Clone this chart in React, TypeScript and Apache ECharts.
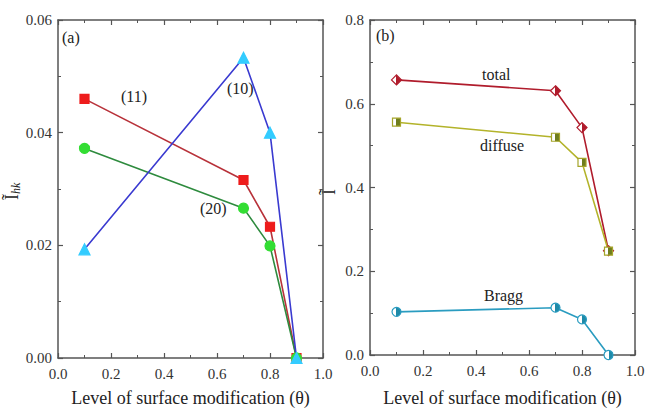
import React, { useEffect, useRef } from "react";
import * as echarts from "echarts";

const thetas = [0.1, 0.7, 0.8, 0.9];
const i11 = [0.046, 0.0316, 0.0233, 0.0];
const i20 = [0.0372, 0.0266, 0.0199, 0.0];
const i10 = [0.0193, 0.0533, 0.04, 0.0];
const totalI = [0.657, 0.631, 0.543, 0.249];
const diffuseI = [0.556, 0.52, 0.46, 0.248];
const braggI = [0.103, 0.113, 0.085, 0.0];
const xTickLabels = ["0.0", "0.2", "0.4", "0.6", "0.8", "1.0"];

const FONT = "serif";
const AXC = "#555";

function halfFill(color: string) {
  return new echarts.graphic.LinearGradient(0, 0, 1, 0, [
    { offset: 0, color: "#fff" },
    { offset: 0.5, color: "#fff" },
    { offset: 0.5, color },
    { offset: 1, color },
  ]);
}

function pairs(ys: number[]) {
  return thetas.map((t, i) => [t, ys[i]]);
}

export default function App() {
  const ref = useRef<HTMLDivElement>(null);
  useEffect(() => {
    if (!ref.current) return;
    const chart = echarts.init(ref.current, null, { renderer: "svg" });
    const xBase = (gi: number, pos: "bottom" | "top", gap: number) => ({
      type: "value",
      gridIndex: gi,
      position: pos,
      min: 0,
      max: 1,
      interval: 0.2,
      axisLine: { show: true, onZero: false, lineStyle: { color: AXC, width: 1.5 } },
      axisTick: { show: true, inside: true, length: 5, lineStyle: { color: AXC, width: 1.2 } },
      minorTick: { show: true, splitNumber: 2, length: 3, lineStyle: { color: AXC, width: 1 } },
      splitLine: { show: false },
      axisLabel: pos === "bottom"
        ? {
            show: true,
            fontFamily: FONT,
            fontSize: 15,
            color: "#333",
            margin: 8,
            formatter: (v: number) => xTickLabels[Math.round(v * 5)] ?? "",
          }
        : { show: false },
      name: pos === "bottom" ? "Level of surface modification (θ)" : "",
      nameLocation: "middle",
      nameGap: gap,
      nameTextStyle: { fontFamily: FONT, fontSize: 18, color: "#222" },
    });
    const yBase = (gi: number, pos: "left" | "right", max: number, interval: number, dec: number) => ({
      type: "value",
      gridIndex: gi,
      position: pos,
      min: 0,
      max,
      interval,
      axisLine: { show: true, onZero: false, lineStyle: { color: AXC, width: 1.5 } },
      axisTick: { show: true, inside: true, length: 5, lineStyle: { color: AXC, width: 1.2 } },
      minorTick: { show: true, splitNumber: 2, length: 3, lineStyle: { color: AXC, width: 1 } },
      splitLine: { show: false },
      axisLabel: pos === "left"
        ? { show: true, fontFamily: FONT, fontSize: 15, color: "#333", margin: 6, formatter: (v: number) => v.toFixed(dec) }
        : { show: false },
    });

    const lineSeries = (
      name: string, xi: number, yi: number, data: number[], lineColor: string,
      symbol: string, size: number, fill: any, border: string
    ) => ({
      name,
      type: "line",
      xAxisIndex: xi,
      yAxisIndex: yi,
      data: pairs(data),
      symbol,
      symbolSize: size,
      showSymbol: true,
      lineStyle: { color: lineColor, width: 1.6 },
      itemStyle: { color: fill, borderColor: border, borderWidth: 1.2 },
      z: 3,
    });

    const txt = (left: number, top: number, text: string) => ({
      type: "text", left, top,
      style: { text, fontFamily: FONT, fontSize: 16, fill: "#222" },
    });

    chart.setOption({
      animation: false,
      backgroundColor: "#fff",
      grid: [
        { left: 58, top: 20, width: 265, height: 338, outerBoundsMode: "none", containLabel: false },
        { left: 370, top: 20, width: 265, height: 335, outerBoundsMode: "none", containLabel: false },
      ],
      xAxis: [xBase(0, "bottom", 31), xBase(0, "top", 31), xBase(1, "bottom", 34), xBase(1, "top", 34)],
      yAxis: [
        yBase(0, "left", 0.06, 0.02, 2),
        yBase(0, "right", 0.06, 0.02, 2),
        yBase(1, "left", 0.8, 0.2, 1),
        yBase(1, "right", 0.8, 0.2, 1),
      ],
      series: [
        lineSeries("(11)", 0, 0, i11, "#b8323a", "rect", 9, "#ee1c1c", "#ee1c1c"),
        lineSeries("(20)", 0, 0, i20, "#2e8b3e", "circle", 10, "#33dd33", "#33dd33"),
        lineSeries("(10)", 0, 0, i10, "#3a3ad0", "triangle", 11, "#33ccff", "#33ccff"),
        lineSeries("total", 2, 2, totalI, "#b01c2c", "diamond", 10, halfFill("#b01c2c"), "#b01c2c"),
        lineSeries("diffuse", 2, 2, diffuseI, "#b3b32a", "rect", 8, halfFill("#6f7d1e"), "#a5a52a"),
        lineSeries("Bragg", 2, 2, braggI, "#2a9cc0", "circle", 9, halfFill("#1f8aa8"), "#2a9cc0"),
      ],
      graphic: [
        txt(62, 29, "(a)"),
        txt(376, 27, "(b)"),
        txt(121, 88, "(11)"),
        txt(227, 80, "(10)"),
        txt(200, 200, "(20)"),
        txt(482, 66, "total"),
        txt(480, 137, "diffuse"),
        txt(484, 287, "Bragg"),
        {
          type: "text",
          x: 12,
          y: 200,
          rotation: Math.PI / 2,
          style: {
            text: "{a|Ĩ}{b|hk}",
            rich: {
              a: { fontFamily: FONT, fontSize: 18, fill: "#222" },
              b: { fontFamily: FONT, fontSize: 12, fontStyle: "italic", fill: "#222", padding: [8, 0, 0, 0] },
            },
            verticalAlign: "middle",
          },
        },
        {
          type: "text",
          x: 329,
          y: 195,
          rotation: Math.PI / 2,
          style: { text: "Ĩ", fontFamily: FONT, fontSize: 18, fill: "#222", verticalAlign: "middle" },
        },
      ],
    });
    return () => chart.dispose();
  }, []);
  return <div ref={ref} style={{ width: 647, height: 409, position: "absolute", left: 0, top: 0 }} />;
}
